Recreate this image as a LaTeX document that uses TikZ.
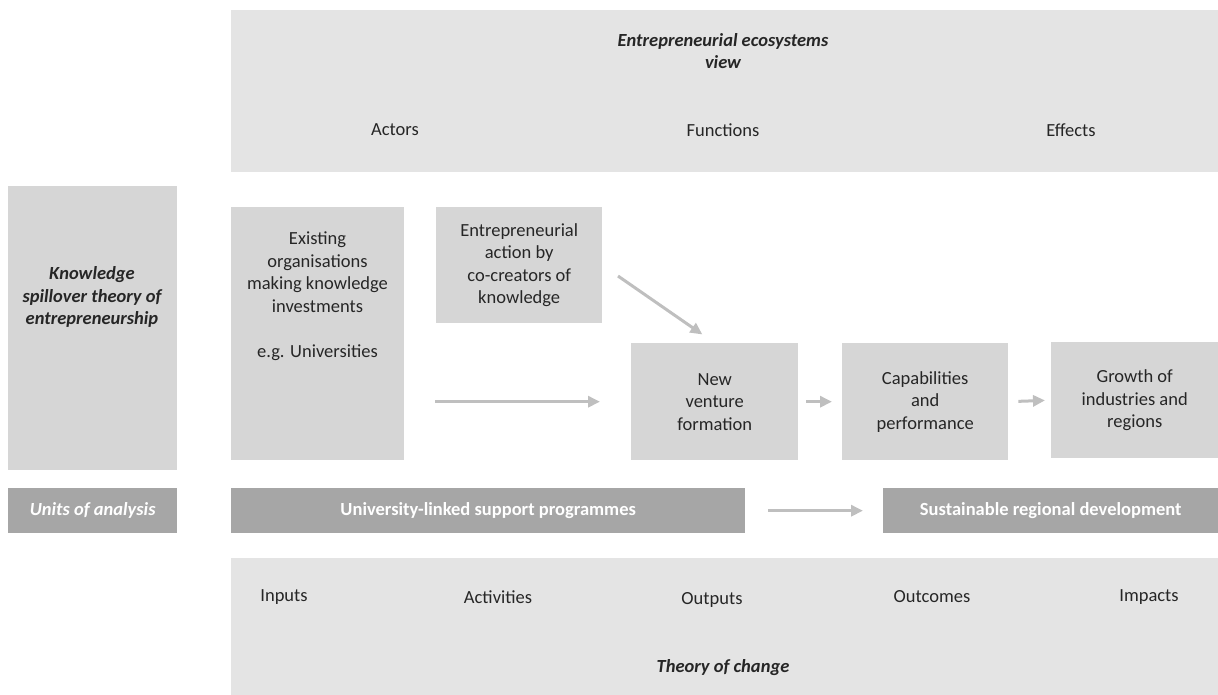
\documentclass[tikz,border=0pt]{standalone}
\usepackage{fontspec}
\setmainfont{Carlito}
\usetikzlibrary{arrows.meta}
\definecolor{panelgrey}{HTML}{E4E4E4}
\definecolor{boxgrey}{HTML}{D6D6D6}
\definecolor{unitgrey}{HTML}{A6A6A6}
\definecolor{arrowgrey}{HTML}{BFBFBF}
\definecolor{textgrey}{HTML}{262626}

\begin{document}
\begin{tikzpicture}[x=1pt,y=-1pt,
	every node/.style={font=\fontsize{18.5}{22.5}\selectfont, text=textgrey, align=center},
	panel/.style={fill=panelgrey, inner sep=0pt, anchor=north west},
	box/.style={fill=boxgrey, inner sep=0pt, anchor=north west},
	unit/.style={fill=unitgrey, inner sep=0pt, anchor=north west, minimum height=45pt, text=white, font=\fontsize{18.5}{22.5}\selectfont\bfseries},
	hd/.style={font=\fontsize{18.5}{22.5}\selectfont\bfseries\itshape},
	flow/.style={draw=arrowgrey, line width=3pt, -{Triangle[length=12pt,width=11pt]}}]
	\useasboundingbox (0,0) rectangle (1218,695);

	% ecosystems view
	\node[panel, minimum width=987pt, minimum height=162pt](top) at (231,10) {};
	\node[hd](ev) at (723,51) {Entrepreneurial ecosystems\\view};
	\node(ac) at (395,130) {Actors};
	\node(fu) at (723,130) {Functions};
	\node(ef) at (1071,130) {Effects};

	% spillover theory
	\node[box, minimum width=169pt, minimum height=284pt](k) at (8,186) {};
	\node[hd](kt) at (92,297) {Knowledge\\spillover theory of\\entrepreneurship};

	\node[box, minimum width=173pt, minimum height=253pt](o) at (231,207) {};
	\node(ot) at (317.5,296) {Existing\\organisations\\making knowledge\\investments\\[22.5pt]e.g. Universities};
	\node[box, minimum width=166pt, minimum height=116pt](e) at (436,207) {Entrepreneurial\\action by\\co-creators of\\knowledge};
	\node[box, minimum width=167pt, minimum height=117pt](n) at (631,343) {New\\venture\\formation};
	\node[box, minimum width=166pt, minimum height=117pt](c) at (842,343) {Capabilities\\and\\performance};
	\node[box, minimum width=167pt, minimum height=116pt](g) at (1051,342) {Growth of\\industries and\\regions};

	\draw[flow, shorten <=31pt, shorten >=31pt] (o.east |- n.west) -- (n.west);
	\draw[flow, shorten <=19pt, shorten >=15pt] (e.east) -- (n.north);
	\draw[flow, shorten <=8pt, shorten >=10pt] (n.east) -- (c.west);
	\draw[flow, shorten <=10pt, shorten >=6pt] (c.east) -- (g.west);

	% units of analysis
	\node[unit, minimum width=169pt, font=\fontsize{18.5}{22.5}\selectfont\bfseries\itshape](ua) at (8,488) {Units of analysis};
	\node[unit, minimum width=514pt](u) at (231,488) {University-linked support programmes};
	\node[unit, minimum width=335pt](s) at (883,488) {Sustainable regional development};
	\draw[flow, shorten <=23pt, shorten >=20pt] (u.east) -- (s.west);

	% theory of change
	\node[panel, minimum width=987pt, minimum height=137pt](bot) at (231,558) {};
	\node(in) at (284,597) {Inputs};
	\node(at) at (498,597) {Activities};
	\node(op) at (712,600) {Outputs};
	\node(oc) at (932,597) {Outcomes};
	\node(im) at (1149,597) {Impacts};
	\node[hd](tc) at (723,668) {Theory of change};
\end{tikzpicture}
\end{document}
